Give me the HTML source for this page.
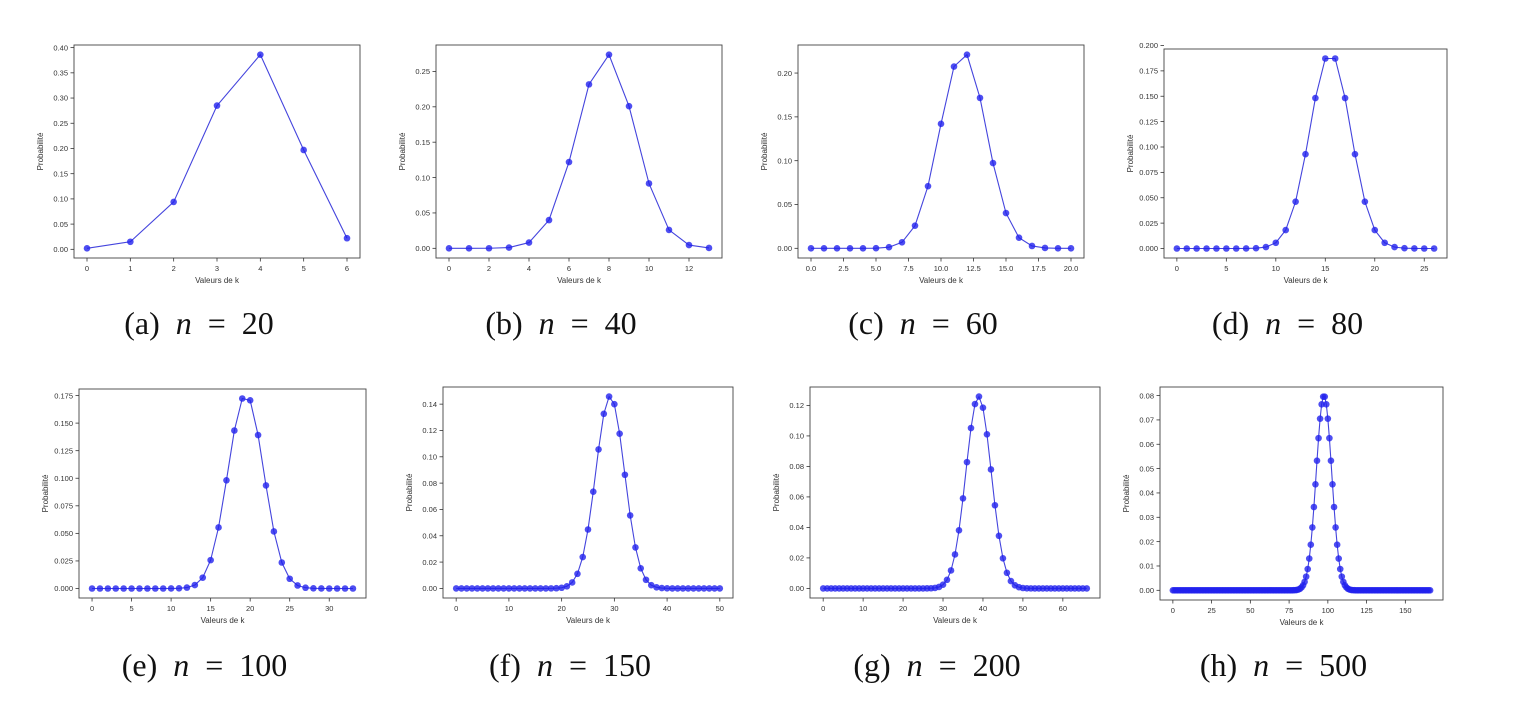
<!DOCTYPE html>
<html><head><meta charset="utf-8"><style>
html,body{margin:0;padding:0;background:#fff;}
svg{display:block;}
</style></head><body>
<svg id="s" width="1517" height="720" xmlns="http://www.w3.org/2000/svg"></svg>
<script>
const S=document.getElementById('s');
let h='';
function gauss(m,mu,sd){const a=[];let t=0;for(let k=0;k<=m;k++){const v=Math.exp(-0.5*((k-mu)/sd)**2);a.push(v);t+=v;}return a.map(v=>v/t);}
const P=[
 {L:74,R:360,T:45,B:258,n:20,lab:'a',d:[0.002,0.015,0.094,0.285,0.386,0.197,0.022],xs:1,xd:0,ys:0.05,yd:2,ym:0.40},
 {L:436,R:722,T:45,B:258,n:40,lab:'b',d:gauss(13,7.85,1.45),xs:2,xd:0,ys:0.05,yd:2,ym:0.25},
 {L:798,R:1084,T:45,B:258,n:60,lab:'c',d:gauss(20,11.7,1.78),xs:2.5,xd:1,ys:0.05,yd:2,ym:0.20},
 {L:1164,R:1447,T:49,B:258,n:80,lab:'d',d:gauss(26,15.5,2.07),xs:5,xd:0,ys:0.025,yd:3,ym:0.2},
 {L:79,R:366,T:389,B:598,n:100,lab:'e',d:gauss(33,19.45,2.27),xs:5,xd:0,ys:0.025,yd:3,ym:0.175},
 {L:443,R:733,T:387,B:598,n:150,lab:'f',d:gauss(50,29.2,2.73),xs:10,xd:0,ys:0.02,yd:2,ym:0.14},
 {L:810,R:1100,T:387,B:598,n:200,lab:'g',d:gauss(66,38.9,3.17),xs:10,xd:0,ys:0.02,yd:2,ym:0.12},
 {L:1160,R:1443,T:387,B:600,n:500,lab:'h',d:gauss(166,97.5,4.99),xs:25,xd:0,ys:0.01,yd:2,ym:0.08}
];
for(const p of P){
 const m=p.d.length-1, mx=Math.max(...p.d), mn=Math.min(...p.d);
 const x0=-0.05*m,x1=m*1.05, y0=mn-0.05*(mx-mn), y1=mx+0.05*(mx-mn);
 const X=v=>p.L+(v-x0)/(x1-x0)*(p.R-p.L), Y=v=>p.B-(v-y0)/(y1-y0)*(p.B-p.T);
 h+=`<rect x="${p.L}" y="${p.T}" width="${p.R-p.L}" height="${p.B-p.T}" fill="none" stroke="#444" stroke-width="0.9"/>`;
 for(let v=0;v<=m+1e-9;v+=p.xs){const x=X(v);h+=`<line x1="${x}" y1="${p.B}" x2="${x}" y2="${p.B+3.5}" stroke="#333" stroke-width="0.8"/><text x="${x}" y="${p.B+13}" font-size="7.5" text-anchor="middle" font-family="Liberation Sans,sans-serif" fill="#333">${v.toFixed(p.xd)}</text>`;}
 for(let v=0;v<=p.ym+1e-9;v+=p.ys){const y=Y(v);h+=`<line x1="${p.L}" y1="${y}" x2="${p.L-3.5}" y2="${y}" stroke="#333" stroke-width="0.8"/><text x="${p.L-6}" y="${y+2.7}" font-size="7.5" text-anchor="end" font-family="Liberation Sans,sans-serif" fill="#333">${v.toFixed(p.yd)}</text>`;}
 const cx=(p.L+p.R)/2, cy=(p.T+p.B)/2;
 h+=`<text x="${cx}" y="${p.B+25}" font-size="8" text-anchor="middle" font-family="Liberation Sans,sans-serif" fill="#333">Valeurs de k</text>`;
 h+=`<text transform="translate(${p.L-31},${cy}) rotate(-90)" font-size="8" text-anchor="middle" font-family="Liberation Sans,sans-serif" fill="#333">Probabilité</text>`;
 const pts=p.d.map((v,k)=>X(k).toFixed(2)+','+Y(v).toFixed(2)).join(' ');
 h+=`<polyline points="${pts}" fill="none" stroke="#4444dd" stroke-width="1.1"/>`;
 p.d.forEach((v,k)=>{h+=`<circle cx="${X(k)}" cy="${Y(v)}" r="3.3" fill="#2222ee" fill-opacity="0.8"/>`;});
 const capY = p.T<100 ? 334 : 676;
 h+=`<text x="${cx-18}" y="${capY}" font-size="32" text-anchor="middle" font-family="Liberation Serif,serif" fill="#111" xml:space="preserve">(${p.lab})  <tspan font-style="italic">n</tspan>  =  ${p.n}</text>`;
}
S.innerHTML=h;
</script>
</body></html>
